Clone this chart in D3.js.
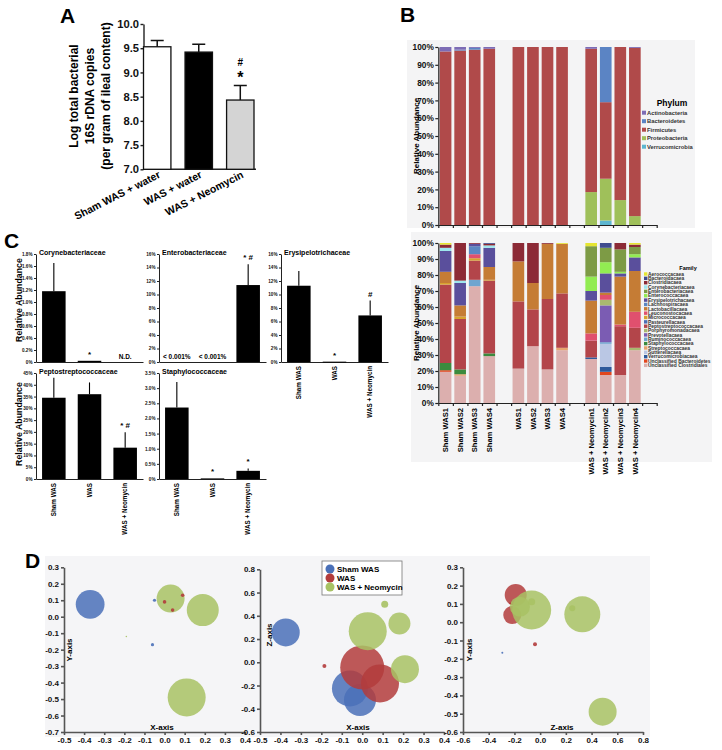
<!DOCTYPE html>
<html>
<head>
<meta charset="utf-8">
<script src="https://cdn.jsdelivr.net/npm/d3@7/dist/d3.min.js"></script>
<style>
  body { margin: 0; background: #ffffff; }
</style>
</head>
<body>
<div id="chart"></div>
<script>
// ---------- A: total bacterial load ----------
const aGroups = ["Sham WAS + water", "WAS + water", "WAS + Neomycin"];
const aMeans = [9.53, 9.42, 8.43];
const aErrTop = [9.66, 9.58, 8.73];
const aStar = ["", "", "*"];
const aHash = ["", "", "#"];
const aTicks = [7.0, 7.5, 8.0, 8.5, 9.0, 9.5, 10.0];
const aYLabel = ["Log total bacterial", "16S rDNA copies", "(per gram of ileal content)"];

// ---------- B: relative abundance per sample ----------
const bSamples = ["Sham WAS1", "Sham WAS2", "Sham WAS3", "Sham WAS4",
  "WAS1", "WAS2", "WAS3", "WAS4",
  "WAS + Neomycin1", "WAS + Neomycin2", "WAS + Neomycin3", "WAS + Neomycin4"];
const bTicks = [0, 10, 20, 30, 40, 50, 60, 70, 80, 90, 100];

const phyla = ["Actinobacteria", "Bacteroidetes", "Firmicutes", "Proteobacteria", "Verrucomicrobia"];
const phylumShares = [
  [2.5, 1.5, 0.5, 1, 0, 0, 0, 0, 1, 0, 0, 0.5],
  [0, 0.5, 1, 0, 0, 0, 0, 0, 0, 31, 0, 0],
  [97.5, 98, 98.5, 99, 100, 100, 100, 100, 80.5, 43, 86, 94.5],
  [0, 0, 0, 0, 0, 0, 0, 0, 18.5, 23.5, 14, 5],
  [0, 0, 0, 0, 0, 0, 0, 0, 0, 2.5, 0, 0]
];

const families = ["Aerococcacaea", "Bacteroidacaea", "Clostridiacaea", "Corynebacteriacaea",
  "Enterobacteriacaea", "Enterococcacaea", "Erysipelotrichacaea", "Lachnospiracaea",
  "Lactobacillacaea", "Leuconostocacaea", "Micrococcacaea", "Pasteurellacaea",
  "Peptostreptococcacaea", "Porphyromonadacaea", "Prevotellacaea", "Ruminococcacaea",
  "Staphylococcacaea", "Streptococcacaea", "Sutterellacaea", "Verrucomicrobiacaea",
  "Unclassified Bacteroidetes", "Unclassified Clostridiales"];
const familyShares = [
  [1, 0, 0, 0, 0, 0, 0, 0.5, 2, 0, 0, 1],
  [0, 0, 0, 0.5, 0, 0, 0, 0, 0, 3, 0, 0],
  [2, 23.5, 0.5, 1, 11.5, 25, 0.5, 0, 0, 0, 4, 1.5],
  [2, 1.5, 0, 1.5, 0, 0, 0, 0, 0, 0, 0, 0],
  [0, 0, 0, 0, 0, 0, 0, 0, 19, 9, 14, 4.5],
  [0, 0, 0, 0, 0, 0, 0, 0, 9, 7, 1, 2],
  [13, 14, 1.5, 12, 0, 0, 0, 0, 6, 12, 2, 8.5],
  [0, 0, 5, 0, 0, 0, 0, 0, 0, 0, 0, 0],
  [7, 7, 0, 8, 25, 16.5, 34.5, 31, 20.5, 1.5, 30, 25.5],
  [0, 0, 2.5, 0, 0, 0, 0, 0, 4.5, 3, 1, 10],
  [1, 1.5, 1.5, 0.5, 0, 0, 0, 0, 0, 0, 0, 0],
  [0, 0, 0, 0, 0, 0, 0, 0, 0, 0, 0, 0],
  [49, 31.5, 12, 45.5, 42, 23, 44, 34, 10.5, 0, 30.5, 12.5],
  [0, 0, 0, 0, 0, 0, 0, 0, 0, 3.5, 0, 1.5],
  [0, 0, 0, 0, 0, 0, 0, 0, 0, 23, 0, 0],
  [0, 0, 4, 0, 0, 0, 0, 0, 0, 1, 0, 0],
  [4.5, 3, 0, 1.7, 0, 0, 0, 0, 0, 0, 0, 0],
  [0, 1, 0, 0, 0, 0, 0, 1.5, 0, 0, 0, 0],
  [0, 0, 0, 0, 0, 0, 0, 0, 0, 14.5, 0, 0],
  [0, 0, 0, 0, 0, 0, 0, 0, 1, 3, 0, 0],
  [1, 0, 0, 0, 0, 0, 0, 0, 0, 2, 0, 0],
  [19.5, 17, 73, 29.3, 21.5, 35.5, 21, 33, 27.5, 17.5, 17.5, 33]
];

// ---------- C: selected families ----------
const cGroups = ["Sham WAS", "WAS", "WAS + Neomycin"];
const cTitles = ["Corynebacteriaceae", "Enterobacteriaceae", "Erysipelotrichaceae",
  "Peptostreptococcaceae", "Staphylococcaceae"];
const cMeans = [[1.18, 0.02, null], [null, null, 11.4], [11.3, 0.05, 6.9], [34.5, 36, 13.3], [2.36, 0.02, 0.27]];
const cErrTop = [[1.65, null, null], [null, null, 14.5], [13.5, null, 9.1], [43, 41, 19.8], [3.2, null, 0.35]];
const cMarks = [["", "*", "N.D."], ["< 0.001%", "< 0.001%", "* #"], ["", "*", "#"], ["", "", "* #"], ["", "*", "*"]];
const cMax = [1.8, 16, 16, 45, 3.5];
const cStep = [0.2, 2, 2, 5, 0.5];

// ---------- D: PCoA bubbles ----------
const dGroups = ["Sham WAS", "WAS", "WAS + Neomycin"];
// [horizontal, vertical, bubble size, group]
const dXY = [
  [-0.37, 0.075, 0.72, 0], [0.03, 0.11, 0.7, 2], [0.19, 0.04, 0.8, 2], [0.11, -0.49, 0.95, 2],
  [-0.05, 0.10, 0.08, 0], [-0.06, -0.17, 0.08, 0], [-0.19, -0.12, 0.04, 2],
  [0.0, 0.09, 0.09, 1], [0.09, 0.13, 0.09, 1], [0.04, 0.04, 0.09, 1]
];
const dXZ = [
  [-0.374, 0.257, 0.7, 0], [-0.06, -0.225, 0.9, 0], [-0.011, -0.325, 0.8, 0],
  [-0.185, -0.033, 0.1, 1], [0.0, -0.044, 1.1, 1], [0.087, -0.182, 0.95, 1],
  [0.027, 0.268, 0.95, 2], [0.11, 0.5, 0.175, 2], [0.182, 0.334, 0.55, 2], [0.209, -0.059, 0.7, 2]
];
const dZY = [
  [-0.19, 0.149, 0.55, 1], [-0.217, 0.039, 0.45, 1],
  [-0.066, 0.067, 0.975, 2], [-0.157, 0.085, 0.5, 2], [0.328, 0.043, 0.9, 2], [0.486, -0.489, 0.7, 2],
  [-0.066, 0.112, 0.175, 2], [0.25, 0.076, 0.15, 2],
  [-0.04, -0.121, 0.1, 1], [-0.294, -0.167, 0.05, 0], [-0.234, 0.103, 0.05, 1]
];

// ================= drawing =================
const font = "'Liberation Sans', Arial, sans-serif";
const W = 722, H = 750;

const svg = d3.select("#chart").append("svg")
  .attr("width", W).attr("height", H)
  .attr("font-family", font).attr("font-weight", "bold").attr("fill", "#000");
svg.append("rect").attr("width", W).attr("height", H).attr("fill", "#fff");

function styleAxis(g, size) {
  g.attr("font-family", font).attr("font-size", size).attr("font-weight", "bold");
  g.selectAll("path, line").attr("stroke", "#222");
  g.selectAll("text").attr("fill", "#111");
}

function panelLetter(t, x, y) {
  svg.append("text").attr("x", x).attr("y", y).attr("font-size", 21).text(t);
}

// ----- A -----
panelLetter("A", 60, 23);
{
  const x = d3.scaleBand().domain(aGroups).range([143.5, 254]).paddingInner(0.34).paddingOuter(0);
  const y = d3.scaleLinear().domain([7, 10]).range([169.3, 24]);
  const g = svg.append("g");

  g.append("g").attr("transform", "translate(143.5,0)")
    .call(d3.axisLeft(y).tickValues(aTicks).tickFormat(d3.format(".1f")).tickSize(3).tickSizeOuter(0).tickPadding(1.5))
    .call(a => styleAxis(a, 11.2))
    .call(a => a.selectAll("path, line").attr("stroke-width", 1.4));
  g.append("line").attr("x1", 143.5).attr("x2", 256).attr("y1", y(7)).attr("y2", y(7))
    .attr("stroke", "#222").attr("stroke-width", 1.4);

  const fills = ["#ffffff", "#000000", "#d4d4d4"];
  g.selectAll(".bar").data(aGroups).join("rect")
    .attr("x", d => x(d)).attr("width", x.bandwidth())
    .attr("y", (d, i) => y(aMeans[i])).attr("height", (d, i) => y(7) - y(aMeans[i]))
    .attr("fill", (d, i) => fills[i]).attr("stroke", "#111").attr("stroke-width", 1.3);

  const cx = d => x(d) + x.bandwidth() / 2;
  g.selectAll(".err").data(aGroups).join("path")
    .attr("d", (d, i) => `M${cx(d)},${y(aMeans[i])}V${y(aErrTop[i])}M${cx(d) - 6.5},${y(aErrTop[i])}H${cx(d) + 6.5}`)
    .attr("stroke", "#111").attr("stroke-width", 1.5).attr("fill", "none");

  aGroups.forEach((d, i) => {
    if (aStar[i]) g.append("text").attr("x", cx(d)).attr("y", y(aErrTop[i]) - 3)
      .attr("text-anchor", "middle").attr("font-size", 16).text(aStar[i]);
    if (aHash[i]) g.append("text").attr("x", cx(d)).attr("y", y(aErrTop[i]) - 20)
      .attr("text-anchor", "middle").attr("font-size", 10).text(aHash[i]);
  });

  g.selectAll(".xl").data(aGroups).join("text")
    .attr("transform", d => `translate(${cx(d) + 4},177) rotate(-27)`)
    .attr("text-anchor", "end").attr("font-size", 10.5).text(d => d);

  aYLabel.forEach((t, i) => {
    g.append("text").attr("transform", `translate(${78 + i * 15.8},96) rotate(-90)`)
      .attr("text-anchor", "middle").attr("font-size", 12).text(t);
  });
}

// ----- B -----
panelLetter("B", 400, 22);
{
  const slots = [];
  bSamples.forEach((s, i) => { slots.push(s); if (i % 4 === 3) slots.push("gap" + i); });
  const x = d3.scaleBand().domain(slots).range([438.3, 656.7]).paddingInner(0.2).paddingOuter(0.1);
  const xEdge = d3.scaleLinear().domain([0, slots.length]).range([438.3, 656.7]);

  function stackedPanel(names, shares, colors, y0, y1, bg) {
    const g = svg.append("g");
    g.append("rect").attr("x", bg[0]).attr("y", bg[1]).attr("width", bg[2]).attr("height", bg[3]).attr("fill", "#f4f4f5");
    const y = d3.scaleLinear().domain([0, 100]).range([y0, y1]);
    const rows = bSamples.map((s, j) => {
      const r = { sample: s };
      names.forEach((n, k) => { r[n] = shares[k][j]; });
      return r;
    });
    const keys = names.slice().reverse();
    const series = d3.stack().keys(keys)(rows);
    const color = d3.scaleOrdinal().domain(names).range(colors);
    g.selectAll(".ser").data(series).join("g").attr("fill", s => color(s.key))
      .selectAll("rect").data(s => s).join("rect")
      .attr("x", d => x(d.data.sample)).attr("width", x.bandwidth())
      .attr("y", d => y(d[1])).attr("height", d => Math.max(0, y(d[0]) - y(d[1])));

    g.append("g").attr("transform", `translate(438.3,0)`)
      .call(d3.axisLeft(y).tickValues(bTicks).tickFormat(d => d + "%").tickSize(3).tickSizeOuter(0).tickPadding(1.5))
      .call(a => styleAxis(a, 8.3))
      .call(a => a.selectAll("path, line").attr("stroke-width", 1.2));
    g.append("g").attr("transform", `translate(0,${y0})`)
      .call(d3.axisBottom(xEdge).tickValues(d3.range(slots.length + 1)).tickFormat("").tickSize(3).tickSizeOuter(0))
      .call(a => styleAxis(a, 8))
      .call(a => a.selectAll("path, line").attr("stroke-width", 1.2));
    g.append("text").attr("transform", `translate(418.5,${(y0 + y1) / 2}) rotate(-90)`)
      .attr("text-anchor", "middle").attr("font-size", 8).text("Relative Abundance");
    return { g, color };
  }

  const phylumColors = ["#7d6cb5", "#5b84c4", "#b04a4a", "#9fc05a", "#5db6d0"];
  const top = stackedPanel(phyla, phylumShares, phylumColors, 225, 47, [407, 40, 288, 188]);
  top.g.append("text").attr("x", 672).attr("y", 106).attr("text-anchor", "middle")
    .attr("font-size", 8.5).text("Phylum");
  phyla.forEach((p, i) => {
    const yy = 112.7 + i * 8.5;
    top.g.append("rect").attr("x", 642).attr("y", yy - 2).attr("width", 4).attr("height", 4).attr("fill", top.color(p));
    top.g.append("text").attr("x", 647).attr("y", yy).attr("dy", "0.35em")
      .attr("font-size", 5.8).attr("fill", "#333").text(p);
  });

  const familyColors = ["#e6e632", "#3f4b8e", "#8c2a36", "#9ee6ee", "#7d9b45", "#92ec52",
    "#5a4f9c", "#5b86c2", "#c57c35", "#e0506e", "#d7a22e", "#4d6fb5", "#b3454a", "#a9b870",
    "#7b5cb3", "#6ea5cf", "#3b8b3e", "#e6a46f", "#bac7e4", "#2f5a9b", "#e2461e", "#dcafae"];
  const bot = stackedPanel(families, familyShares, familyColors, 403, 243, [411, 232, 301, 230]);
  bot.g.append("text").attr("x", 688).attr("y", 270).attr("text-anchor", "middle")
    .attr("font-size", 5.5).text("Family");
  families.forEach((f, i) => {
    const yy = 274 + i * 4.35;
    bot.g.append("rect").attr("x", 644).attr("y", yy - 1.7).attr("width", 3.4).attr("height", 3.4).attr("fill", bot.color(f));
    bot.g.append("text").attr("x", 648).attr("y", yy).attr("dy", "0.35em")
      .attr("font-size", 4.9).attr("fill", "#333").text(f);
  });
  bot.g.selectAll(".xl").data(bSamples).join("text")
    .attr("transform", d => `translate(${x(d) + x.bandwidth() / 2},408) rotate(-90)`)
    .attr("text-anchor", "end").attr("dy", "0.35em").attr("font-size", 7.6).attr("fill", "#000").text(d => d);
}

// ----- C -----
panelLetter("C", 4, 248);
{
  const cols = [36, 159, 281];
  const rows = [[254, 362], [373, 479]];
  const pos = [[0, 0], [1, 0], [2, 0], [0, 1], [1, 1]];
  const showX = [false, false, true, true, true];

  cTitles.forEach((title, i) => {
    const ax = cols[pos[i][0]];
    const [top, bottom] = rows[pos[i][1]];
    const y = d3.scaleLinear().domain([0, cMax[i]]).range([bottom, top]);
    const x = d3.scaleBand().domain(cGroups).range([ax, ax + 107]).paddingInner(0.34).paddingOuter(0.17);
    const g = svg.append("g");
    const ticks = d3.range(0, cMax[i] + cStep[i] / 2, cStep[i]).map(v => Math.round(v * 100) / 100);
    const fmt = d => d === 0 ? "0%" : (cStep[i] < 1 ? d.toFixed(1) : d.toFixed(0)) + "%";

    g.append("g").attr("transform", `translate(${ax},0)`)
      .call(d3.axisLeft(y).tickValues(ticks).tickFormat(fmt).tickSize(2).tickSizeOuter(0).tickPadding(1.5))
      .call(a => styleAxis(a, 4.6));
    g.append("g").attr("transform", `translate(0,${bottom})`)
      .call(d3.axisBottom(x).tickSize(0).tickSizeOuter(0).tickFormat(""))
      .call(a => styleAxis(a, 6));

    const cx = d => x(d) + x.bandwidth() / 2;
    cGroups.forEach((grp, k) => {
      const m = cMeans[i][k];
      if (m !== null) {
        g.append("rect").attr("x", x(grp)).attr("width", x.bandwidth())
          .attr("y", y(m)).attr("height", Math.max(0.8, bottom - y(m))).attr("fill", "#000");
      }
      const e = cErrTop[i][k];
      if (e !== null) {
        g.append("line").attr("x1", cx(grp)).attr("x2", cx(grp)).attr("y1", y(m)).attr("y2", y(e))
          .attr("stroke", "#000").attr("stroke-width", 1.1);
      }
      const mk = cMarks[i][k];
      if (mk) {
        const low = mk.startsWith("<") || mk === "N.D.";
        const yy = low ? bottom - 3 : y(e !== null ? e : m) - 4;
        g.append("text").attr("x", cx(grp)).attr("y", yy).attr("text-anchor", "middle")
          .attr("fill", "#000").attr("font-size", low ? 6.5 : 8).text(mk);
      }
    });

    g.append("text").attr("x", ax + 3).attr("y", top + 1).attr("font-size", 7).attr("fill", "#000").text(title);

    if (showX[i]) {
      g.selectAll(".xl").data(cGroups).join("text")
        .attr("transform", d => `translate(${cx(d)},${bottom + 4}) rotate(-90)`)
        .attr("text-anchor", "end").attr("dy", "0.35em").attr("font-size", 6.3).attr("fill", "#000").text(d => d);
    }
  });

  [300, 424].forEach(cy => {
    svg.append("text").attr("transform", `translate(22,${cy}) rotate(-90)`)
      .attr("text-anchor", "middle").attr("font-size", 8.8).text("Relative Abundance");
  });
}

// ----- D -----
panelLetter("D", 25, 568);
{
  svg.append("rect").attr("x", 45).attr("y", 556).attr("width", 605).attr("height", 181).attr("fill", "#f5f5f7");
  const gColors = ["#4a70b8", "#b33c3c", "#a8c264"];
  const rScale = d3.scaleLinear().domain([0, 1]).range([0, 20]);
  const fmt = d => Math.abs(d) < 1e-9 ? "0.0" : d.toFixed(1);
  const rng = (a, b, s) => d3.range(a, b + s / 2, s).map(v => Math.round(v * 10) / 10);

  function view(points, xd, xr, xs, yd, yr, ys, xLab, xLabPos, yLab, yLabPos) {
    const g = svg.append("g");
    const x = d3.scaleLinear().domain(xd).range(xr);
    const y = d3.scaleLinear().domain(yd).range(yr);
    g.append("g").attr("transform", `translate(0,${yr[0]})`)
      .call(d3.axisBottom(x).tickValues(rng(xd[0], xd[1], xs)).tickFormat(fmt).tickSize(3).tickSizeOuter(0).tickPadding(2))
      .call(a => styleAxis(a, 8))
      .call(a => a.selectAll("path, line").attr("stroke", "#555").attr("stroke-width", 1.6));
    g.append("g").attr("transform", `translate(${xr[0]},0)`)
      .call(d3.axisLeft(y).tickValues(rng(yd[0], yd[1], ys)).tickFormat(fmt).tickSize(3).tickSizeOuter(0).tickPadding(2))
      .call(a => styleAxis(a, 8))
      .call(a => a.selectAll("path, line").attr("stroke", "#555").attr("stroke-width", 1.6));
    const sorted = points.slice().sort((a, b) => (a[2] < 0.2) - (b[2] < 0.2));
    g.selectAll("circle").data(sorted).join("circle")
      .attr("cx", d => x(d[0])).attr("cy", d => y(d[1])).attr("r", d => rScale(d[2]))
      .attr("fill", d => gColors[d[3]]).attr("fill-opacity", d => d[2] < 0.2 ? 0.9 : 0.85);
    g.append("text").attr("x", xLabPos[0]).attr("y", xLabPos[1]).attr("text-anchor", "middle")
      .attr("font-size", 8).text(xLab);
    g.append("text").attr("transform", `translate(${yLabPos[0]},${yLabPos[1]}) rotate(-90)`)
      .attr("text-anchor", "middle").attr("font-size", 8).text(yLab);
  }

  view(dXY, [-0.5, 0.4], [64, 245], 0.1, [-0.7, 0.3], [732, 567.3], 0.1, "X-axis", [162, 730], "Y-axis", [72, 650]);
  view(dXZ, [-0.5, 0.4], [260, 444], 0.1, [-0.6, 0.8], [732, 569.3], 0.2, "X-axis", [358, 730], "Z-axis", [271.5, 635]);
  view(dZY, [-0.6, 0.8], [463, 643], 0.2, [-0.6, 0.3], [732, 567.3], 0.1, "Z-axis", [562, 730], "Y-axis", [472, 650]);

  const lg = svg.append("g");
  lg.append("rect").attr("x", 322).attr("y", 561).attr("width", 80).attr("height", 34)
    .attr("fill", "#fff").attr("stroke", "#777").attr("stroke-width", 0.8);
  dGroups.forEach((d, i) => {
    const yy = 569 + i * 9;
    lg.append("circle").attr("cx", 330).attr("cy", yy).attr("r", 4.5).attr("fill", gColors[i]);
    lg.append("text").attr("x", 337).attr("y", yy).attr("dy", "0.35em").attr("font-size", 8).attr("fill", "#000").text(d);
  });
}
</script>
</body>
</html>
